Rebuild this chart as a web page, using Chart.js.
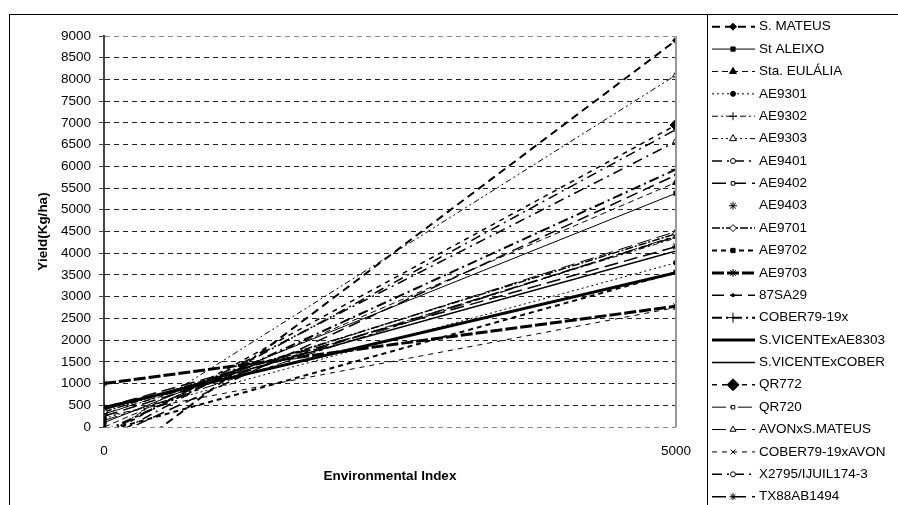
<!DOCTYPE html>
<html>
<head>
<meta charset="utf-8">
<script src="https://cdn.jsdelivr.net/npm/chart.js@4.4.1/dist/chart.umd.min.js"></script>
<style>
  html, body { margin: 0; padding: 0; background: #fff; }
</style>
</head>
<body>
<canvas id="yieldChart" width="898" height="505"></canvas>
<script>
// environmental index (x) at which each regression line is drawn
var envIndex = [0, 5000];

var genotypes = ['S. MATEUS', 'St ALEIXO', 'Sta. EULÁLIA', 'AE9301', 'AE9302', 'AE9303',
    'AE9401', 'AE9402', 'AE9403', 'AE9701', 'AE9702', 'AE9703', '87SA29', 'COBER79-19x',
    'S.VICENTExAE8303', 'S.VICENTExCOBER', 'QR772', 'QR720', 'AVONxS.MATEUS',
    'COBER79-19xAVON', 'X2795/IJUIL174-3', 'TX88AB1494'];

// yield (Kg/ha) at index 0 and at index 5000
var yieldAt0 = [-1000, 100, 0, 200, 300, -200, -150, 250, 450, 350, -100, 1000,
    -300, -100, 450, 400, -200, 150, 300, 250, -300, 450];
var yieldAt5000 = [8900, 5380, 5630, 3780, 4350, 8100, 6570, 4380, 4160, 4450, 3560, 2780,
    5800, 5930, 3550, 4050, 6950, 4400, 4500, 2750, 6850, 4150];

// line / marker look for each genotype (same order)
var styles = [
    { dash: [8, 5], w: 2, ps: 'rectRot', r: 3.5, fill: true },
    { dash: [], w: 1, ps: 'rect', r: 3, fill: true },
    { dash: [6, 4], w: 1, ps: 'triangle', r: 4, fill: true },
    { dash: [2, 3], w: 1, ps: 'circle', r: 2.5, fill: true },
    { dash: [6, 3, 2, 3], w: 1, ps: 'cross', r: 4, fill: false },
    { dash: [6, 3, 2, 3, 2, 3], w: 1, ps: 'triangle', r: 4, fill: false },
    { dash: [10, 5, 2, 5], w: 1.5, ps: 'circle', r: 2.5, fill: false },
    { dash: [14, 6], w: 1.5, ps: 'rect', r: 2.5, fill: false },
    { line: false, ps: 'star', r: 4, fill: false },
    { dash: [8, 2, 2, 2], w: 1.5, ps: 'rectRot', r: 3.5, fill: false },
    { dash: [5, 4], w: 2, ps: 'rect', r: 3, fill: true },
    { dash: [12, 3], w: 3, ps: 'star', r: 4, fill: false },
    { dash: [12, 6], w: 1.5, ps: 'circle', r: 1.5, fill: true },
    { dash: [10, 4, 2, 4], w: 2, ps: 'cross', r: 5, fill: false },
    { dash: [], w: 3, ps: 'circle', r: 0, fill: true },
    { dash: [], w: 1.5, ps: 'circle', r: 0, fill: true },
    { dash: [5, 5], w: 1.5, ps: 'rectRot', r: 6, fill: true },
    { dash: [14, 4, 4, 4], w: 1, ps: 'rect', r: 2.5, fill: false },
    { dash: [14, 6], w: 1, ps: 'triangle', r: 3.5, fill: false },
    { dash: [5, 5], w: 1, ps: 'crossRot', r: 3.5, fill: false },
    { dash: [10, 5, 2, 5], w: 1.5, ps: 'circle', r: 2.5, fill: false },
    { dash: [14, 6], w: 1.5, ps: 'star', r: 3.5, fill: false }
];

var FONT = '"Liberation Sans", Arial, sans-serif';

var datasets = genotypes.map(function (name, i) {
    var s = styles[i];
    return {
        label: name,
        data: [{ x: envIndex[0], y: yieldAt0[i] }, { x: envIndex[1], y: yieldAt5000[i] }],
        showLine: s.line !== false,
        borderColor: '#000',
        borderWidth: s.w || 1,
        borderDash: s.dash || [],
        pointStyle: s.ps,
        pointRadius: s.r,
        pointBorderColor: '#000',
        pointBorderWidth: 1,
        pointBackgroundColor: s.fill ? '#000' : '#fff'
    };
});

// frame, plot border and the legend on the right
var framePlugin = {
    id: 'framePlugin',
    afterDraw: function (chart) {
        var ctx = chart.ctx;
        var a = chart.chartArea;
        ctx.save();
        ctx.setLineDash([]);
        ctx.strokeStyle = '#999';
        ctx.lineWidth = 2;
        ctx.beginPath();
        ctx.moveTo(a.right, a.top);
        ctx.lineTo(a.right, a.bottom);
        ctx.stroke();

        ctx.strokeStyle = '#000';
        ctx.lineWidth = 1;
        ctx.strokeRect(9.5, 14.5, 1000, 1000);
        ctx.beginPath();
        ctx.moveTo(707.5, 14.5);
        ctx.lineTo(707.5, 505);
        ctx.stroke();

        chart.data.datasets.forEach(function (ds, i) {
            var y = 26.7 + i * 22.38;
            if (ds.showLine) {
                ctx.beginPath();
                ctx.strokeStyle = '#000';
                ctx.setLineDash(ds.borderDash);
                ctx.lineWidth = ds.borderWidth;
                ctx.moveTo(712, y);
                ctx.lineTo(755, y);
                ctx.stroke();
            }
            ctx.setLineDash([]);
            if (ds.pointRadius > 0) {
                ctx.fillStyle = ds.pointBackgroundColor;
                ctx.strokeStyle = '#000';
                ctx.lineWidth = 1;
                Chart.helpers.drawPoint(ctx, {
                    pointStyle: ds.pointStyle, radius: ds.pointRadius, rotation: 0, borderWidth: 1
                }, 733, y);
            }
            ctx.fillStyle = '#000';
            ctx.font = '13.5px ' + FONT;
            ctx.textBaseline = 'middle';
            ctx.textAlign = 'left';
            ctx.fillText(ds.label, 759, y);
        });
        ctx.restore();
    }
};

new Chart(document.getElementById('yieldChart').getContext('2d'), {
    type: 'scatter',
    data: { datasets: datasets },
    plugins: [framePlugin],
    options: {
        responsive: false,
        animation: false,
        layout: { padding: { left: 35, top: 36, right: 222, bottom: 21 } },
        plugins: {
            legend: { display: false },
            tooltip: { enabled: false }
        },
        scales: {
            x: {
                type: 'linear',
                min: 0,
                max: 5000,
                afterFit: function (scale) { scale.height = 57; },
                grid: { display: false },
                border: { display: false },
                ticks: {
                    stepSize: 5000,
                    padding: 8,
                    color: '#000',
                    font: { family: FONT, size: 13.5 },
                    callback: function (v) { return String(v); }
                },
                title: {
                    display: true,
                    text: 'Environmental Index',
                    color: '#000',
                    padding: 0,
                    font: { family: FONT, size: 13.5, weight: 'bold' }
                }
            },
            y: {
                min: 0,
                max: 9000,
                afterFit: function (scale) { scale.width = 69; },
                grid: {
                    color: function (c) {
                        return (c.tick && (c.tick.value === 0 || c.tick.value === 9000)) ? '#888' : '#222';
                    },
                    tickLength: 5,
                    tickColor: '#444',
                    tickBorderDash: []
                },
                border: { display: true, color: '#444', width: 2, dash: [5, 4] },
                ticks: {
                    stepSize: 500,
                    padding: 8,
                    color: '#000',
                    font: { family: FONT, size: 13.5 },
                    callback: function (v) { return String(v); }
                },
                title: {
                    display: true,
                    text: 'Yield(Kg/ha)',
                    color: '#000',
                    padding: 0,
                    font: { family: FONT, size: 13.5, weight: 'bold' }
                }
            }
        }
    }
});
</script>
</body>
</html>
